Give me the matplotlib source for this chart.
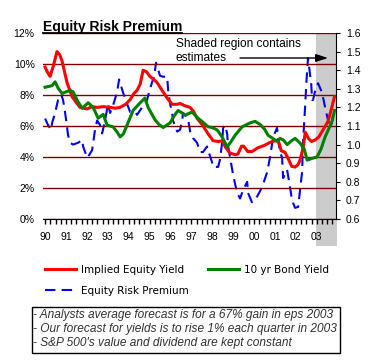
import matplotlib.pyplot as plt
import matplotlib.ticker as mticker
from matplotlib.lines import Line2D
from matplotlib.patches import Rectangle

plt.rcParams['font.family'] = ['Liberation Sans', 'DejaVu Sans']

# Implied equity yield (%), left axis
ey_years = [1990.00, 1990.10, 1990.24, 1990.40, 1990.57, 1990.70, 1990.81, 1991.05, 1991.29, 1991.50,
            1991.67, 1992.01, 1992.25, 1992.49, 1992.80, 1993.11, 1993.35, 1993.59, 1993.85, 1994.07,
            1994.25, 1994.40, 1994.55, 1994.69, 1994.85, 1995.02, 1995.20, 1995.36, 1995.60, 1995.84,
            1996.08, 1996.30, 1996.46, 1996.70, 1996.94, 1997.10, 1997.27, 1997.51, 1997.80, 1998.04,
            1998.30, 1998.47, 1998.65, 1998.85, 1999.10, 1999.23, 1999.40, 1999.50, 1999.70, 1999.90,
            2000.19, 2000.50, 2000.77, 2001.00, 2001.15, 2001.30, 2001.48, 2001.63, 2001.80, 2001.96,
            2002.10, 2002.20, 2002.35, 2002.45, 2002.60, 2002.75, 2002.92, 2003.10, 2003.30, 2003.54,
            2003.70, 2003.85]
ey_vals = [9.8, 9.5, 9.2, 9.9, 10.8, 10.6, 10.2, 8.8, 7.9, 7.5,
           7.2, 7.1, 7.25, 7.2, 7.25, 7.2, 7.15, 7.2, 7.4, 7.7,
           8.1, 8.3, 8.7, 9.6, 9.5, 9.2, 9.0, 8.8, 8.3, 7.8,
           7.4, 7.4, 7.45, 7.3, 7.2, 6.95, 6.5, 6.1, 5.5, 5.05,
           5.0, 5.05, 4.6, 4.25, 4.15, 4.2, 4.7, 4.7, 4.35, 4.35,
           4.6, 4.75, 4.95, 5.05, 5.1, 4.4, 4.3, 3.9, 3.4, 3.35,
           3.5, 3.8, 4.6, 5.6, 5.2, 5.0, 5.1, 5.3, 5.75, 6.3,
           7.1, 7.9]

# 10 yr bond yield (%), left axis
bond_years = [1990.00, 1990.33, 1990.48, 1990.62, 1990.81, 1991.00, 1991.20, 1991.34, 1991.58, 1991.77,
              1991.90, 1992.06, 1992.30, 1992.54, 1992.78, 1992.97, 1993.25, 1993.45, 1993.59, 1993.75,
              1993.92, 1994.21, 1994.55, 1994.78, 1994.93, 1995.26, 1995.45, 1995.65, 1995.98, 1996.20,
              1996.36, 1996.55, 1996.70, 1997.03, 1997.32, 1997.55, 1997.80, 1998.00, 1998.23, 1998.47,
              1998.71, 1998.90, 1999.09, 1999.43, 1999.81, 2000.05, 2000.29, 2000.50, 2000.67, 2000.90,
              2001.10, 2001.24, 2001.40, 2001.58, 2001.80, 2001.96, 2002.20, 2002.40, 2002.54, 2002.75,
              2003.01, 2003.20, 2003.40, 2003.60, 2003.73, 2003.85]
bond_vals = [8.5, 8.6, 8.85, 8.45, 8.1, 8.2, 8.3, 8.2, 7.55, 7.15,
             7.3, 7.5, 7.2, 6.5, 6.75, 6.05, 5.95, 5.6, 5.3, 5.5,
             6.05, 7.0, 7.5, 7.8, 7.2, 6.4, 6.1, 5.9, 6.2, 6.7,
             7.0, 6.85, 6.7, 6.9, 6.5, 6.25, 5.95, 5.9, 5.75, 5.3,
             4.65, 5.0, 5.4, 5.95, 6.2, 6.3, 6.1, 5.8, 5.4, 5.2,
             5.0, 5.2, 5.1, 4.8, 5.05, 5.2, 4.9, 4.5, 3.8, 3.9,
             4.0, 4.5, 5.3, 5.9, 6.3, 7.0]

# Equity risk premium (ratio), right axis
erp_years = [1990.00, 1990.14, 1990.29, 1990.33, 1990.48, 1990.62, 1990.77, 1990.86, 1990.96, 1991.05,
             1991.10, 1991.20, 1991.34, 1991.58, 1991.77, 1991.82, 1992.01, 1992.06, 1992.25, 1992.30,
             1992.39, 1992.49, 1992.63, 1992.73, 1992.87, 1993.01, 1993.11, 1993.25, 1993.44, 1993.54,
             1993.73, 1993.92, 1994.07, 1994.31, 1994.40, 1994.64, 1994.88, 1995.02, 1995.22, 1995.31,
             1995.50, 1995.65, 1995.84, 1995.89, 1995.98, 1996.08, 1996.12, 1996.32, 1996.46, 1996.56,
             1996.60, 1996.84, 1996.94, 1997.08, 1997.27, 1997.42, 1997.56, 1997.75, 1997.80, 1997.99,
             1998.04, 1998.28, 1998.37, 1998.47, 1998.52, 1998.61, 1998.71, 1998.76, 1999.00, 1999.19,
             1999.33, 1999.47, 1999.67, 1999.71, 1999.90, 2000.14, 2000.38, 2000.62, 2000.77, 2000.91,
             2001.10, 2001.15, 2001.24, 2001.34, 2001.39, 2001.58, 2001.72, 2001.82, 2001.96, 2002.11,
             2002.20, 2002.30, 2002.34, 2002.44, 2002.49, 2002.54, 2002.58, 2002.63, 2002.73, 2002.78,
             2002.82, 2002.97, 2003.06, 2003.25, 2003.40, 2003.54, 2003.64, 2003.73, 2003.78]
erp_vals = [1.14, 1.105, 1.08, 1.115, 1.17, 1.24, 1.27, 1.24, 1.17, 1.095,
            1.05, 1.01, 1.0, 1.01, 1.025, 0.99, 0.93, 0.935, 0.97, 1.01,
            1.08, 1.13, 1.105, 1.06, 1.13, 1.22, 1.17, 1.21, 1.28, 1.35,
            1.28, 1.22, 1.175, 1.175, 1.16, 1.2, 1.24, 1.3, 1.37, 1.44,
            1.37, 1.365, 1.365, 1.29, 1.22, 1.17, 1.13, 1.07, 1.08, 1.13,
            1.17, 1.14, 1.07, 1.035, 1.01, 0.96, 0.96, 0.99, 0.97, 0.905,
            0.88, 0.88, 0.92, 1.01, 1.09, 1.105, 1.06, 0.99, 0.835, 0.74,
            0.71, 0.755, 0.8, 0.74, 0.69, 0.72, 0.77, 0.85, 0.935, 1.04,
            1.09, 1.025, 0.96, 0.93, 0.82, 0.865, 0.77, 0.7, 0.66, 0.665,
            0.755, 0.855, 1.01, 1.2, 1.31, 1.4, 1.465, 1.42, 1.33, 1.24,
            1.24, 1.31, 1.33, 1.28, 1.2, 1.13, 1.09, 1.12, 1.16]

year_ticks = list(range(1990, 2004))
estimate_start = 2002.98
legend_labels = ["Implied Equity Yield", "Equity Risk Premium", "10 yr Bond Yield"]
notes = ["- Analysts average forecast is for a 67% gain in eps 2003",
         "- Our forecast for yields is to rise 1% each quarter in 2003",
         "- S&P 500's value and dividend are kept constant"]

W, H = 375, 360
fig = plt.figure(figsize=(W / 100, H / 100), dpi=100)
ax = fig.add_axes([43 / W, 1 - 219 / H, 293 / W, 186 / H])
ax2 = ax.twinx()
ax.set_zorder(ax2.get_zorder() + 1)
ax.patch.set_visible(False)

ax.set_xlim(1989.9, 2003.92)
ax.set_ylim(0, 12)
ax2.set_ylim(0.6, 1.6)

# shaded estimate region, runs down over the year labels
ax2.axvspan(estimate_start, 2003.95, ymin=-0.145, ymax=1, color='#cccccc', lw=0,
            clip_on=False, zorder=0)

ax.set_yticks(range(0, 13, 2))
ax.yaxis.set_major_formatter(mticker.PercentFormatter(xmax=100, decimals=0))
ax.grid(axis='y', color='#800000', lw=1.0)
ax.tick_params(axis='y', length=0, pad=6, labelsize=7.5)

ax.set_xticks(year_ticks)
ax.set_xticklabels([f"{y % 100:02d}" for y in year_ticks])
ax.xaxis.set_minor_locator(mticker.MultipleLocator(0.25))
ax.tick_params(axis='x', which='both', direction='out', length=3.5, width=1, pad=6, labelsize=7.5)

for side in ['left', 'top', 'right']:
    ax.spines[side].set_visible(False)
ax.spines['bottom'].set_color('black')
for side in ['left', 'top', 'bottom']:
    ax2.spines[side].set_visible(False)
ax2.spines['right'].set_color('black')

ax2.set_yticks([0.6, 0.7, 0.8, 0.9, 1.0, 1.1, 1.2, 1.3, 1.4, 1.5, 1.6])
ax2.yaxis.set_major_formatter(mticker.FormatStrFormatter('%.1f'))
ax2.tick_params(axis='y', direction='out', length=3, pad=4, labelsize=7.5)

l_erp, = ax2.plot(erp_years, erp_vals, color='#0000ff', lw=1.5, dashes=(5, 3))
l_ey, = ax.plot(ey_years, ey_vals, color='#ff0000', lw=2.2, solid_joinstyle='round')
l_bond, = ax.plot(bond_years, bond_vals, color='#008000', lw=2.2, solid_joinstyle='round')

# title with underline
title = fig.text(43 / W, 1 - 31 / H, "Equity Risk Premium", fontsize=10, fontweight='bold',
                 va='baseline')

fig.text(176 / W, 1 - 46.5 / H, "Shaded region contains", fontsize=8.6, va='baseline')
fig.text(176 / W, 1 - 61 / H, "estimates", fontsize=8.6, va='baseline')
fig.add_artist(plt.Annotation('', xy=(328 / W, 1 - 58 / H), xytext=(240 / W, 1 - 58 / H),
                              xycoords='figure fraction', textcoords='figure fraction',
                              arrowprops=dict(arrowstyle='-|>,head_length=0.4,head_width=0.13',
                                              color='black', lw=1, mutation_scale=18,
                                              shrinkA=0, shrinkB=0)))

fig.legend(handles=[l_ey, l_erp, l_bond], labels=legend_labels, ncol=2, loc='upper left',
           bbox_to_anchor=(45 / W, 1 - 265 / H), frameon=False,
           prop={'family': 'DejaVu Sans', 'size': 7.5}, handlelength=3.0, handletextpad=0.5,
           columnspacing=1.8, labelspacing=1.05, borderpad=0, borderaxespad=0)

# note box
fig.add_artist(Rectangle((32 / W, 1 - 353 / H), 308 / W, 46 / H, transform=fig.transFigure,
                         fill=False, edgecolor='black', lw=1))
for i, note in enumerate(notes):
    fig.text(33 / W, 1 - (315 + 14 * i) / H, note, fontsize=8.6, style='italic',
             color='#333333', va='center')

fig.canvas.draw()
bb = title.get_window_extent().transformed(fig.transFigure.inverted())
fig.add_artist(Line2D([bb.x0, bb.x1], [1 - 32.5 / H, 1 - 32.5 / H], transform=fig.transFigure,
                      color='black', lw=1.3))

fig.savefig('out.png', dpi=100)
